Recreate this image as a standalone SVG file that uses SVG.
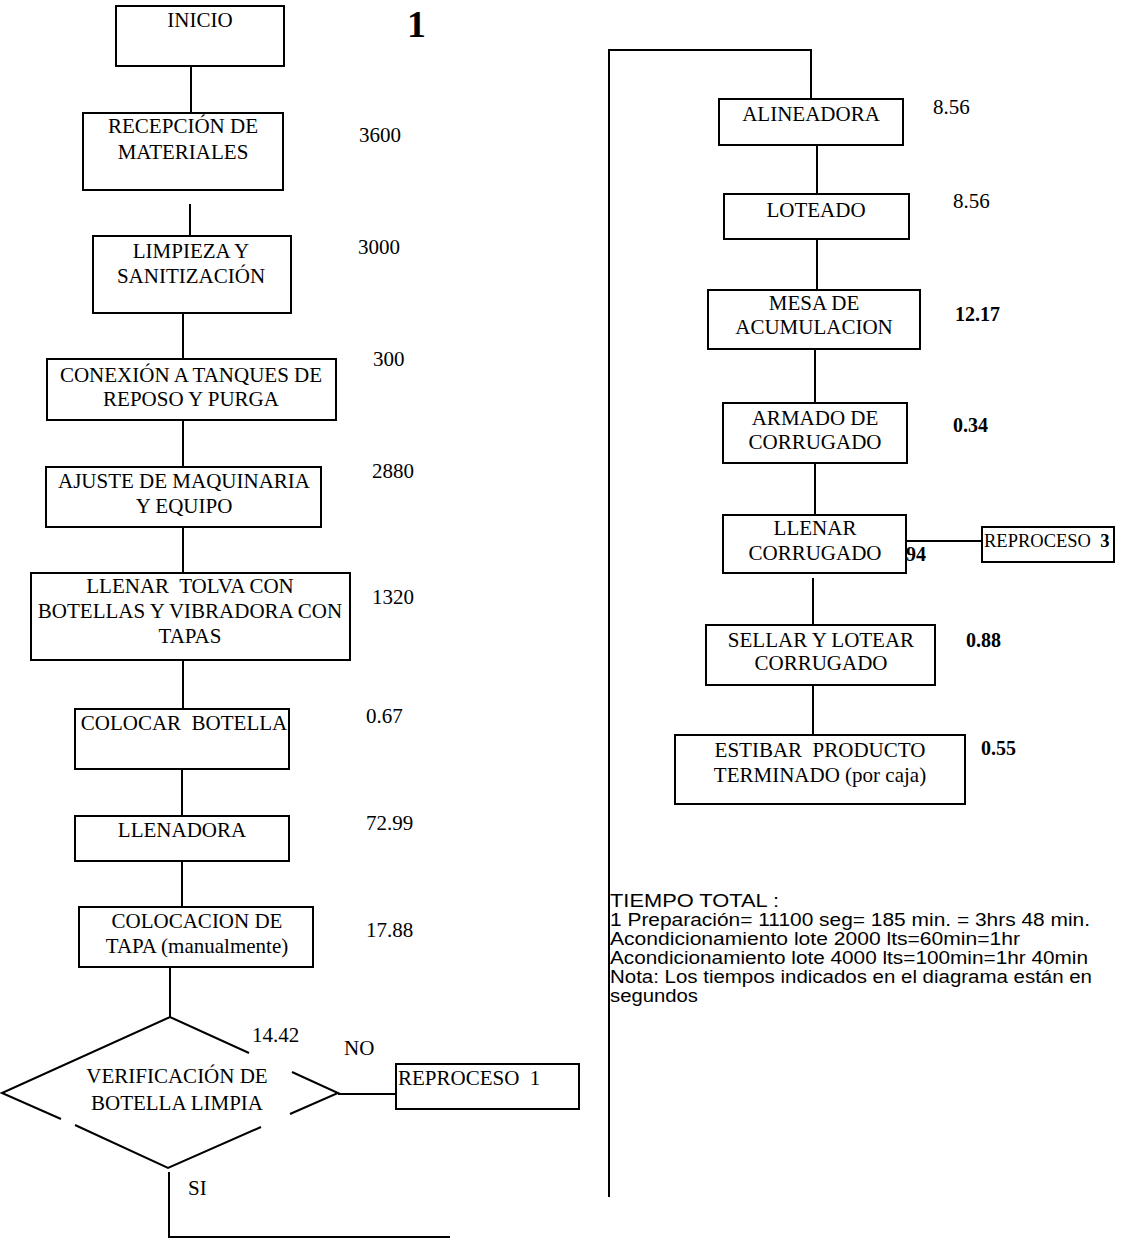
<svg xmlns="http://www.w3.org/2000/svg" width="1121" height="1238" viewBox="0 0 1121 1238">
<style>
.box{fill:none;stroke:#000;stroke-width:2}
.ln{fill:none;stroke:#000;stroke-width:2}
.t{font-family:"Liberation Serif","Times New Roman",serif;font-size:21px;text-anchor:middle;white-space:pre;fill:#000}
.n{font-family:"Liberation Serif","Times New Roman",serif;font-size:21px;fill:#000;white-space:pre}
.nb{font-family:"Liberation Serif","Times New Roman",serif;font-size:20px;font-weight:bold;fill:#000;white-space:pre}
.s{font-family:"Liberation Sans",Arial,sans-serif;font-size:17.5px;fill:#000;white-space:pre}
</style>
<rect width="1121" height="1238" fill="#fff"/>
<g id="connectors">
<path class="ln" d="M191 66V113"/>
<path class="ln" d="M190 204V236"/>
<path class="ln" d="M183 313V359"/>
<path class="ln" d="M183 420V467"/>
<path class="ln" d="M183 527V573"/>
<path class="ln" d="M183 660V709"/>
<path class="ln" d="M182 769V816"/>
<path class="ln" d="M182 861V907"/>
<path class="ln" d="M170 967V1017"/>
<path class="ln" d="M338 1094H396"/>
<path class="ln" d="M169 1172V1237H450"/>
<path class="ln" d="M609 1197V50H811V99"/>
<path class="ln" d="M817 145V194"/>
<path class="ln" d="M817 239V290"/>
<path class="ln" d="M815 349V403"/>
<path class="ln" d="M815 463V515"/>
<path class="ln" d="M906 541H982"/>
<path class="ln" d="M813 578V625"/>
<path class="ln" d="M813 685V735"/>
</g>
<g id="title"><text x="407" y="37" style="font-family:'Liberation Serif','Times New Roman',serif;font-size:38px;font-weight:bold">1</text></g>
<g id="inicio"><rect class="box" x="116" y="6" width="168" height="60"/><text class="t" x="200" y="27">INICIO</text></g>
<g id="recepcion"><rect class="box" x="83" y="113" width="200" height="77"/><text class="t" x="183" y="133">RECEPCIÓN DE</text><text class="t" x="183" y="159">MATERIALES</text><text class="n" x="359" y="142">3600</text></g>
<g id="limpieza"><rect class="box" x="93" y="236" width="198" height="77"/><text class="t" x="191" y="258">LIMPIEZA Y</text><text class="t" x="191" y="283">SANITIZACIÓN</text><text class="n" x="358" y="254">3000</text></g>
<g id="conexion"><rect class="box" x="47" y="359" width="289" height="61"/><text class="t" x="191" y="382">CONEXIÓN A TANQUES DE</text><text class="t" x="191" y="406">REPOSO Y PURGA</text><text class="n" x="373" y="366">300</text></g>
<g id="ajuste"><rect class="box" x="46" y="467" width="275" height="60"/><text class="t" x="184" y="488">AJUSTE DE MAQUINARIA</text><text class="t" x="184" y="513">Y EQUIPO</text><text class="n" x="372" y="478">2880</text></g>
<g id="llenar-tolva"><rect class="box" x="31" y="573" width="319" height="87"/><text class="t" x="190" y="593">LLENAR  TOLVA CON</text><text class="t" x="190" y="618">BOTELLAS Y VIBRADORA CON</text><text class="t" x="190" y="643">TAPAS</text><text class="n" x="372" y="604">1320</text></g>
<g id="colocar-botella"><rect class="box" x="75" y="709" width="214" height="60"/><text class="t" x="184" y="730">COLOCAR  BOTELLA</text><text class="n" x="366" y="723">0.67</text></g>
<g id="llenadora"><rect class="box" x="75" y="816" width="214" height="45"/><text class="t" x="182" y="837">LLENADORA</text><text class="n" x="366" y="830">72.99</text></g>
<g id="colocacion-tapa"><rect class="box" x="79" y="907" width="234" height="60"/><text class="t" x="197" y="928">COLOCACION DE</text><text class="t" x="197" y="953">TAPA (manualmente)</text><text class="n" x="366" y="937">17.88</text></g>
<g id="verificacion">
<path class="ln" d="M249 1053L170 1017L2 1093L61 1119M75 1125L168 1168L261 1127M290 1114L338 1093L292 1072"/>
<text class="t" x="177" y="1083">VERIFICACIÓN DE</text><text class="t" x="177" y="1110">BOTELLA LIMPIA</text>
<text class="n" x="252" y="1042">14.42</text>
<text class="n" x="344" y="1055">NO</text>
<text class="n" x="188" y="1195">SI</text>
</g>
<g id="reproceso-1"><rect class="box" x="396" y="1064" width="183" height="45"/><text class="n" x="398" y="1085">REPROCESO  1</text></g>
<g id="alineadora"><rect class="box" x="719" y="99" width="184" height="46"/><text class="t" x="811" y="121">ALINEADORA</text><text class="n" x="933" y="114">8.56</text></g>
<g id="loteado"><rect class="box" x="724" y="194" width="185" height="45"/><text class="t" x="816" y="217">LOTEADO</text><text class="n" x="953" y="208">8.56</text></g>
<g id="mesa"><rect class="box" x="708" y="290" width="212" height="59"/><text class="t" x="814" y="310">MESA DE</text><text class="t" x="814" y="334">ACUMULACION</text><text class="nb" x="955" y="321">12.17</text></g>
<g id="armado"><rect class="box" x="723" y="403" width="184" height="60"/><text class="t" x="815" y="425">ARMADO DE</text><text class="t" x="815" y="449">CORRUGADO</text><text class="nb" x="953" y="432">0.34</text></g>
<g id="llenar-corrugado"><rect class="box" x="723" y="515" width="183" height="58"/><text class="t" x="815" y="535">LLENAR</text><text class="t" x="815" y="560">CORRUGADO</text><text class="nb" x="906" y="561">94</text></g>
<g id="reproceso-3"><rect class="box" x="982" y="527" width="132" height="35"/><text class="n" x="984" y="547" style="font-size:18.5px">REPROCESO  <tspan font-weight="bold">3</tspan></text></g>
<g id="sellar"><rect class="box" x="706" y="625" width="229" height="60"/><text class="t" x="821" y="647">SELLAR Y LOTEAR</text><text class="t" x="821" y="670">CORRUGADO</text><text class="nb" x="966" y="647">0.88</text></g>
<g id="estibar"><rect class="box" x="675" y="735" width="290" height="69"/><text class="t" x="820" y="757">ESTIBAR  PRODUCTO</text><text class="t" x="820" y="782">TERMINADO (por caja)</text><text class="nb" x="981" y="755">0.55</text></g>
<g id="notas">
<text class="s" x="610" y="907" textLength="169" lengthAdjust="spacingAndGlyphs">TIEMPO TOTAL :</text>
<text class="s" x="610" y="926" textLength="480" lengthAdjust="spacingAndGlyphs">1 Preparación= 11100 seg= 185 min. = 3hrs 48 min.</text>
<text class="s" x="610" y="945" textLength="410" lengthAdjust="spacingAndGlyphs">Acondicionamiento lote 2000 lts=60min=1hr</text>
<text class="s" x="610" y="964" textLength="478" lengthAdjust="spacingAndGlyphs">Acondicionamiento lote 4000 lts=100min=1hr 40min</text>
<text class="s" x="610" y="983" textLength="482" lengthAdjust="spacingAndGlyphs">Nota: Los tiempos indicados en el diagrama están en</text>
<text class="s" x="610" y="1002" textLength="88" lengthAdjust="spacingAndGlyphs">segundos</text>
</g>
</svg>
